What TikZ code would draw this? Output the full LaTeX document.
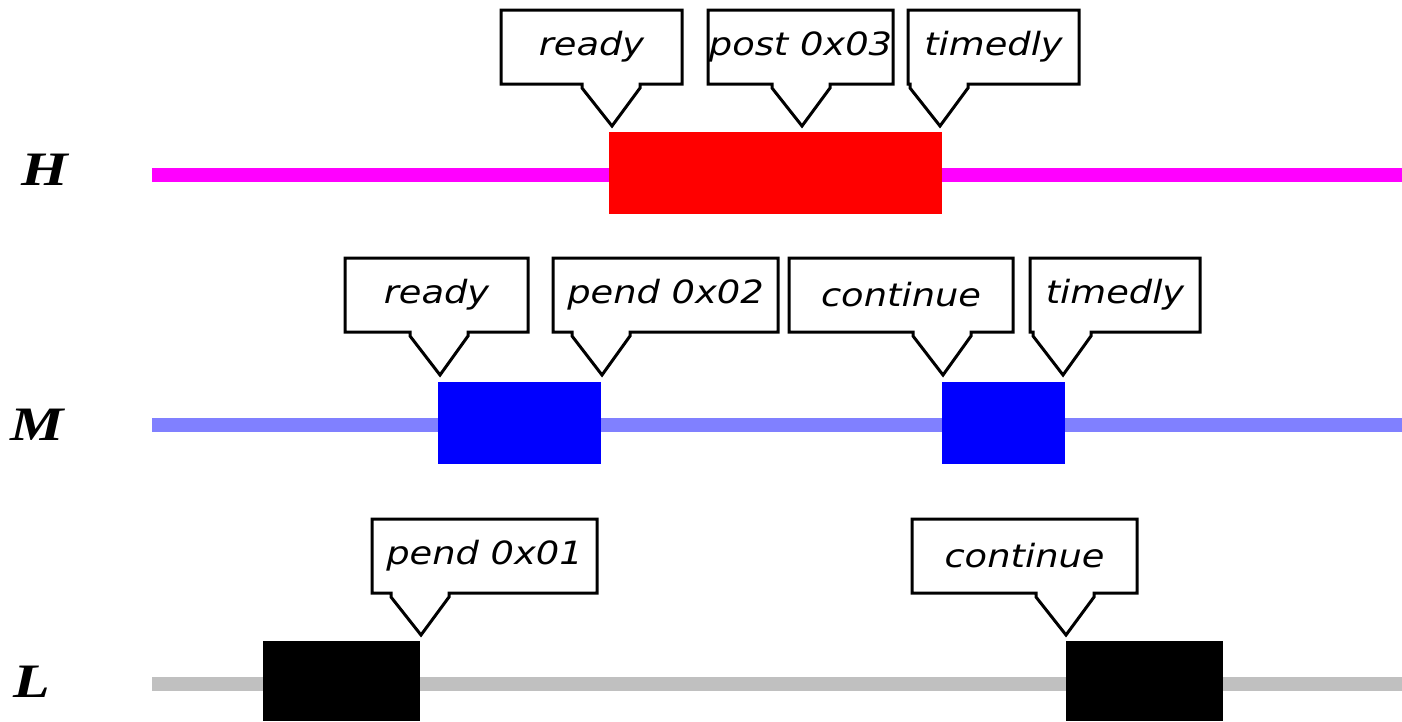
\documentclass[tikz,border=0pt]{standalone}
\usepackage{fontspec}
\newfontfamily\lblfont{DejaVu Sans}
\newfontfamily\rowfont{Liberation Serif}
\definecolor{hline}{HTML}{FF00FF}
\definecolor{mline}{HTML}{8080FF}
\definecolor{lline}{HTML}{C0C0C0}
\definecolor{hbox}{HTML}{FF0000}
\definecolor{mbox}{HTML}{0000FF}
\definecolor{lbox}{HTML}{000000}
\newcommand\mycallout[8]{%
  \draw[callout] (#2,#3) -- (#4,#3) -- (#4,#5) -- ({#6+28},#5) -- ({#6+28},{#5+4}) -- (#6,#7)
     -- ({#6-30},{#5+4}) -- ({#6-30},#5) -- (#2,#5) -- cycle;
  \node[lbl] (#1) at ({(#2+#4)/2},{(#3+#5)/2}) {\scalebox{1.15}[1]{#8}};
}
\begin{document}
\begin{tikzpicture}[x=1pt,y=-1pt,
  callout/.style={draw=black,line width=3pt,fill=white,line join=miter},
  lbl/.style={font=\lblfont\itshape\fontsize{32}{36}\selectfont,inner sep=0pt},
  rowlbl/.style={font=\rowfont\bfseries\itshape\fontsize{48}{52}\selectfont,inner sep=0pt},
  track/.style={line width=14pt},
  busy/.style={draw=none}]
\useasboundingbox (0,0) rectangle (1402,721);
% row labels
\node[rowlbl] (labH) at (45,170) {\scalebox{1.25}[1]{H}};
\node[rowlbl] (labM) at (37,425) {\scalebox{1.25}[1]{M}};
\node[rowlbl] (labL) at (32,682) {\scalebox{1.25}[1]{L}};
% tracks
\coordinate (hs) at (152,175); \coordinate (he) at (1402,175);
\coordinate (ms) at (152,425); \coordinate (me) at (1402,425);
\coordinate (ls) at (152,684); \coordinate (le) at (1402,684);
\draw[track,hline] (hs) -- (he);
\draw[track,mline] (ms) -- (me);
\draw[track,lline] (ls) -- (le);
% busy boxes
\fill[busy,hbox] (609,132) rectangle (942,214);
\fill[busy,mbox] (438,382) rectangle (601,464);
\fill[busy,mbox] (942,382) rectangle (1065,464);
\fill[busy,lbox] (263,641) rectangle (420,721);
\fill[busy,lbox] (1066,641) rectangle (1223,721);
% callouts H
\mycallout{h1}{501}{10}{682}{84}{612}{126}{ready}
\mycallout{h2}{708}{10}{893}{84}{802}{126}{post 0x03}
\mycallout{h3}{908}{10}{1079}{84}{940}{126}{timedly}
% callouts M
\mycallout{m1}{345}{258}{528}{332}{440}{375}{ready}
\mycallout{m2}{553}{258}{778}{332}{602}{375}{pend 0x02}
\mycallout{m3}{789}{258}{1013}{332}{943}{375}{continue}
\mycallout{m4}{1030}{258}{1200}{332}{1063}{375}{timedly}
% callouts L
\mycallout{l1}{372}{519}{597}{593}{421}{635}{pend 0x01}
\mycallout{l2}{912}{519}{1137}{593}{1066}{635}{continue}
\end{tikzpicture}
\end{document}
